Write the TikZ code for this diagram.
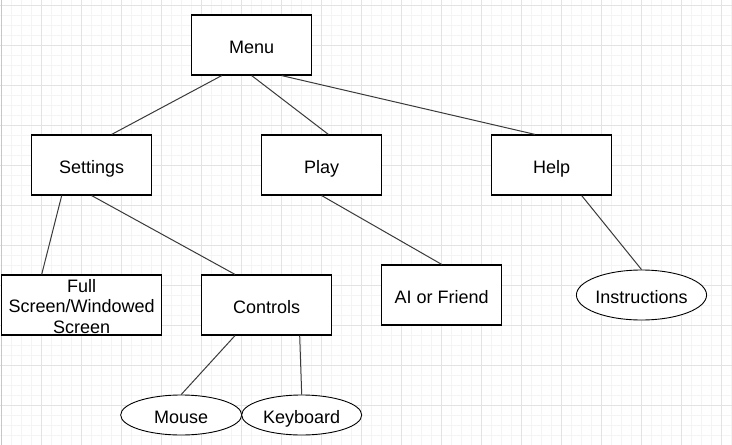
\documentclass[tikz,border=0pt]{standalone}
\usepackage{fontspec}
\setmainfont{Liberation Sans}
\usetikzlibrary{shapes.geometric}
\definecolor{minorgrid}{HTML}{F4F4F4}
\definecolor{majorgrid}{HTML}{E3E3E3}
\definecolor{edgecol}{HTML}{3A3A3A}
\tikzset{
  boxnode/.style={draw=black, line width=1.2pt, fill=white, rectangle, inner sep=0pt, align=center,
    text height=16.6pt, text depth=0pt, font=\fontsize{18}{20.8}\selectfont},
  ovalnode/.style={draw=black, line width=0.9pt, fill=white, ellipse, inner sep=0pt,
    text height=16.6pt, text depth=0pt, font=\fontsize{18}{20.8}\selectfont},
  link/.style={draw=edgecol, line width=1pt}
}
\begin{document}
\begin{tikzpicture}[x=1pt, y=-1pt]
\useasboundingbox (0,0) rectangle (732,445);
\fill[white] (0,0) rectangle (732,445);
% grid
\foreach \gx in {11.7,21.7,...,731.7} \draw[minorgrid, line width=0.8pt] (\gx,0) -- (\gx,445);
\foreach \gy in {15,25,...,445} \draw[minorgrid, line width=0.8pt] (0,\gy) -- (732,\gy);
\foreach \gx in {41.7,81.7,...,731.7} \draw[majorgrid, line width=0.9pt] (\gx,0) -- (\gx,445);
\foreach \gy in {5,45,...,445} \draw[majorgrid, line width=0.9pt] (0,\gy) -- (732,\gy);
\draw[black!22, line width=1.4pt] (1.7,0) -- (1.7,445);

% nodes
\node[boxnode, minimum width=120pt, minimum height=60pt] (menu) at (251.7,45) {Menu};
\node[boxnode, minimum width=120pt, minimum height=60pt] (settings) at (91.7,165) {Settings};
\node[boxnode, minimum width=120pt, minimum height=60pt] (play) at (321.7,165) {Play};
\node[boxnode, minimum width=120pt, minimum height=60pt] (help) at (551.7,165) {Help};
\node[boxnode, minimum width=160pt, minimum height=60pt] (fs) at (81.7,305) {};
\node[font=\fontsize{18}{20.8}\selectfont, align=center, inner sep=0pt] (fstext) at (81.7,306.5) {Full\\Screen/Windowed\\Screen};
\node[boxnode, minimum width=130pt, minimum height=60pt] (controls) at (266.7,305) {Controls};
\node[boxnode, minimum width=120pt, minimum height=60pt] (ai) at (441.7,295) {AI or Friend};
\node[ovalnode, minimum width=130pt, minimum height=50pt] (instr) at (641.5,295) {Instructions};
\node[ovalnode, minimum width=121pt, minimum height=40pt] (mouse) at (181.2,415) {Mouse};
\node[ovalnode, minimum width=120pt, minimum height=40pt] (keyboard) at (301.7,415) {Keyboard};

% connectors
\draw[link] ([xshift=-30pt]menu.south) -- ([xshift=20pt]settings.north);
\draw[link] (menu.south) -- ([xshift=6.7pt]play.north);
\draw[link] ([xshift=30pt]menu.south) -- ([xshift=-16.7pt]help.north);
\draw[link] ([xshift=-30pt]settings.south) -- ([xshift=-40pt]fs.north);
\draw[link] (settings.south) -- ([xshift=-31.7pt]controls.north);
\draw[link] (play.south) -- (ai.north);
\draw[link] ([xshift=30pt]help.south) -- (instr.north);
\draw[link] ([xshift=-31.7pt]controls.south) -- (mouse.north);
\draw[link] ([xshift=33pt]controls.south) -- (keyboard.north);
\end{tikzpicture}
\end{document}
